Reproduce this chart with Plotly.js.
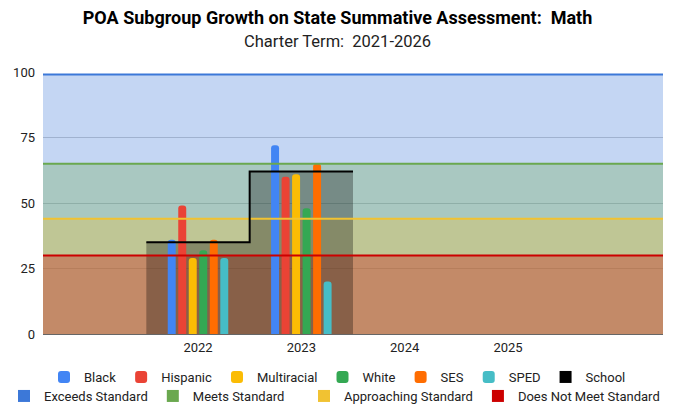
<!DOCTYPE html>
<html>
<head>
<meta charset="utf-8">
<script src="https://cdn.plot.ly/plotly-3.0.1.min.js"></script>
<style>html,body{margin:0;padding:0;background:#fff}#chart{width:675px;height:406px}</style>
</head>
<body>
<div id="chart"></div>
<script>
// Category slots along the x axis (blank padding slot at each end, as in the reference)
const categories = ['', '2022', '2023', '2024', '2025', ' '];
const years = ['2022', '2023', '2024', '2025'];

// Subgroup results per year
const blackVals = [36, 72, null, null];
const hispanicVals = [49, 60, null, null];
const multiracialVals = [29, 61, null, null];
const whiteVals = [32, 48, null, null];
const sesVals = [36, 65, null, null];
const spedVals = [29, 20, null, null];
const schoolVals = [35, 62, null, null];

const subgroupNames = ['Black', 'Hispanic', 'Multiracial', 'White', 'SES', 'SPED'];
const subgroupColors = ['#4285f4', '#ea4335', '#fbbc04', '#34a853', '#ff6d01', '#46bdc6'];
const subgroupValues = [blackVals, hispanicVals, multiracialVals, whiteVals, sesVals, spedVals];

// Standard thresholds (same for every category slot)
const standardNames = ['Exceeds Standard', 'Meets Standard', 'Approaching Standard', 'Does Not Meet Standard'];
const standardValues = [99, 65, 44, 30];
const standardColors = ['#3c78d8', '#6aa84f', '#f1c232', '#cc0000'];
const standardLegends = ['legend2', 'legend2', 'legend3', 'legend3'];

const schoolColor = '#000000';
const FONT = 'Roboto, "Open Sans", sans-serif';

function slotOf(year) { return categories.indexOf(year); }
const yearPos = years.map(slotOf);

function hexA(hex, a) {
  const n = parseInt(hex.slice(1), 16);
  return 'rgba(' + ((n >> 16) & 255) + ',' + ((n >> 8) & 255) + ',' + (n & 255) + ',' + a + ')';
}

// Stepped-area coordinates: each value fills its whole category band
function steps(positions, values) {
  const xs = [], ys = [];
  let last = null;
  positions.forEach((p, i) => {
    if (values[i] == null) return;
    xs.push(p - 0.5); ys.push(values[i]); last = i;
  });
  if (last !== null) { xs.push(positions[last] + 0.5); ys.push(values[last]); }
  return {x: xs, y: ys};
}

const allSlots = categories.map((c, i) => i);
const traces = [];

// Layer 1 (main subplot): translucent fills
standardValues.forEach((v, k) => {
  const s = steps(allSlots, allSlots.map(() => v));
  traces.push({type: 'scatter', mode: 'lines', x: s.x, y: s.y, line: {shape: 'hv', width: 0},
    fill: 'tozeroy', fillcolor: hexA(standardColors[k], 0.3), showlegend: false, hoverinfo: 'skip',
    xaxis: 'x', yaxis: 'y'});
});
const schoolSteps = steps(yearPos, schoolVals);
traces.push({type: 'scatter', mode: 'lines', x: schoolSteps.x, y: schoolSteps.y, line: {shape: 'hv', width: 0},
  fill: 'tozeroy', fillcolor: hexA(schoolColor, 0.3), showlegend: false, hoverinfo: 'skip',
  xaxis: 'x', yaxis: 'y'});

// Layer 2 (overlay): grouped bars
subgroupValues.forEach((vals, k) => {
  traces.push({type: 'bar', name: subgroupNames[k], x: yearPos, y: vals,
    marker: {color: subgroupColors[k], cornerradius: 3, line: {width: 0}},
    xaxis: 'x2', yaxis: 'y', legend: 'legend'});
});

// Layer 3 (overlay): lines on top
standardValues.forEach((v, k) => {
  const s = steps(allSlots, allSlots.map(() => v));
  traces.push({type: 'scatter', mode: 'lines', x: s.x, y: s.y, line: {shape: 'hv', width: 2, color: standardColors[k]},
    showlegend: false, hoverinfo: 'skip', xaxis: 'x3', yaxis: 'y'});
});
traces.push({type: 'scatter', mode: 'lines', x: schoolSteps.x, y: schoolSteps.y,
  line: {shape: 'hv', width: 2, color: schoolColor}, showlegend: false, hoverinfo: 'skip', xaxis: 'x3', yaxis: 'y'});

// Legend entries (square swatches)
traces.push({type: 'scatter', mode: 'markers', name: 'School', x: [null], y: [null],
  marker: {symbol: 'square', size: 12, color: schoolColor}, xaxis: 'x3', yaxis: 'y', legend: 'legend'});
standardNames.forEach((n, k) => {
  traces.push({type: 'scatter', mode: 'markers', name: n, x: [null], y: [null],
    marker: {symbol: 'square', size: 12, color: standardColors[k]}, xaxis: 'x3', yaxis: 'y', legend: standardLegends[k]});
});

const legendBase = {orientation: 'h', yref: 'container', yanchor: 'middle', xref: 'container',
  font: {size: 13, color: '#222222'}, bgcolor: 'rgba(0,0,0,0)', itemwidth: 30, traceorder: 'normal'};

const xRange = [-0.5, categories.length - 0.5];
const layout = {
  width: 675, height: 406,
  margin: {l: 43, r: 12, t: 72, b: 72, pad: 0},
  paper_bgcolor: '#ffffff', plot_bgcolor: '#ffffff',
  font: {family: FONT, size: 13, color: '#222222'},
  title: {
    text: '<b>POA Subgroup Growth on State Summative Assessment:\u00a0 Math</b><br><span style="font-size:16.5px;color:#222222">Charter Term:\u00a0 2021-2026</span>',
    font: {family: FONT, size: 18, color: '#000000'},
    x: 0.5, xref: 'container', xanchor: 'center',
    y: 1 - 24 / 406, yref: 'container', yanchor: 'top'
  },
  barmode: 'group', bargap: 0.39, bargroupgap: 0.24,
  xaxis: {range: xRange, tickmode: 'array', tickvals: yearPos, ticktext: years,
    showgrid: false, zeroline: false, showline: true, linecolor: '#666666', linewidth: 1,
    ticks: '', ticklabelstandoff: 1, tickfont: {size: 13, color: '#222222'}, fixedrange: true},
  xaxis2: {range: xRange, overlaying: 'x', visible: false, fixedrange: true},
  xaxis3: {range: xRange, overlaying: 'x', visible: false, fixedrange: true},
  yaxis: {range: [0, 100], tickmode: 'linear', tick0: 0, dtick: 25, showgrid: true, gridcolor: '#cccccc',
    gridwidth: 1, zeroline: false, showline: false, ticks: '', ticklabelstandoff: 7,
    tickfont: {size: 13, color: '#222222'}, fixedrange: true},
  legend: Object.assign({}, legendBase, {x: 0.5, xanchor: 'center', y: 1 - 377 / 406}),
  legend2: Object.assign({}, legendBase, {x: 4 / 675, xanchor: 'left', y: 1 - 396 / 406}),
  legend3: Object.assign({}, legendBase, {x: 1 - 10 / 675, xanchor: 'right', y: 1 - 396 / 406}),
  showlegend: true
};

Plotly.newPlot('chart', traces, layout, {displayModeBar: false, staticPlot: true});
</script>
</body>
</html>
